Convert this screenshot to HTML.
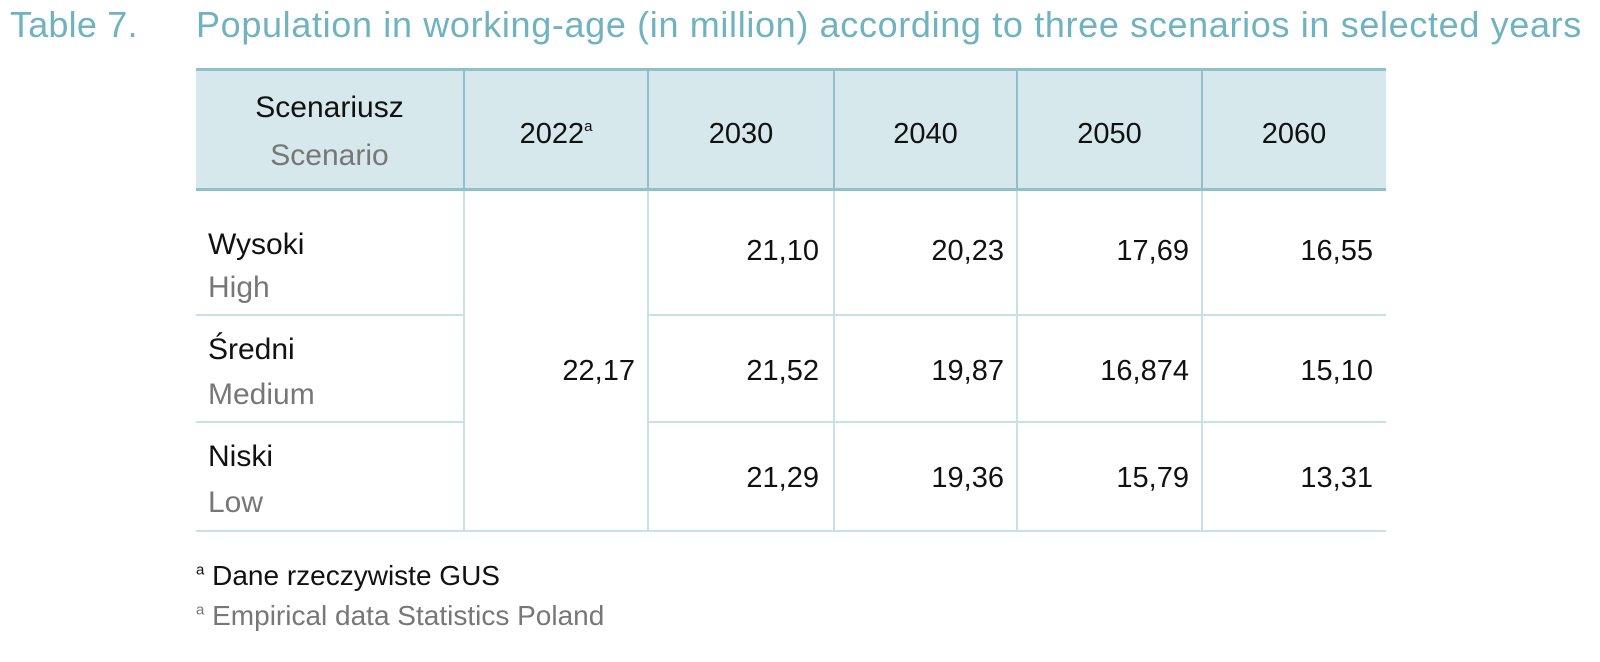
<!DOCTYPE html>
<html><head><meta charset="utf-8"><style>
body{margin:0;width:1600px;height:662px;background:#fff;position:relative;font-family:"Liberation Sans","DejaVu Sans",sans-serif;overflow:hidden}
.a{position:absolute;white-space:nowrap;line-height:1.15}
.t{color:#6fb2c0;font-size:36px;top:4px;letter-spacing:0.65px}
.k{color:#111;font-size:29px}
.g{color:#777;font-size:29px}
.l{font-size:30px}
.r{text-align:right}
.c{text-align:center}
.hl{position:absolute;height:2px;background:#c8e1e7;left:196px;width:1190px}
.vl{position:absolute;width:2px;background:#c8e1e7}
.hv{background:#8fc0cb}
</style></head><body>
<div class="a t" style="left:10px;letter-spacing:0.2px">Table 7.</div>
<div class="a t" style="left:196px">Population in working-age (in million) according to three scenarios in selected years</div>
<div class="a" style="left:196px;top:69px;width:1190px;height:120px;background:#d6e8ec"></div>
<div class="a" style="left:196px;top:68px;width:1190px;height:3px;background:#8fc0cb"></div>
<div class="a" style="left:196px;top:188px;width:1190px;height:3px;background:#8fc0cb"></div>
<div class="vl hv" style="left:463px;top:69px;height:120px"></div>
<div class="vl hv" style="left:647px;top:69px;height:120px"></div>
<div class="vl hv" style="left:833px;top:69px;height:120px"></div>
<div class="vl hv" style="left:1016px;top:69px;height:120px"></div>
<div class="vl hv" style="left:1201px;top:69px;height:120px"></div>
<div class="vl" style="left:463px;top:191px;height:341px"></div>
<div class="vl" style="left:647px;top:191px;height:341px"></div>
<div class="vl" style="left:833px;top:191px;height:341px"></div>
<div class="vl" style="left:1016px;top:191px;height:341px"></div>
<div class="vl" style="left:1201px;top:191px;height:341px"></div>
<div class="hl" style="top:314px;width:267px"></div>
<div class="hl" style="top:314px;left:648px;width:738px"></div>
<div class="hl" style="top:421px;width:267px"></div>
<div class="hl" style="top:421px;left:648px;width:738px"></div>
<div class="hl" style="top:530px"></div>
<div class="a k c l" style="left:196px;width:267px;top:91px">Scenariusz</div>
<div class="a g c l" style="left:196px;width:267px;top:139px">Scenario</div>
<div class="a k c" style="left:464px;width:184px;top:118px">2022<sup style="font-size:15px;vertical-align:12px">a</sup></div>
<div class="a k c" style="left:648px;width:186px;top:118px">2030</div>
<div class="a k c" style="left:834px;width:183px;top:118px">2040</div>
<div class="a k c" style="left:1017px;width:185px;top:118px">2050</div>
<div class="a k c" style="left:1202px;width:184px;top:118px">2060</div>
<div class="a k l" style="left:208px;top:228px">Wysoki</div>
<div class="a g l" style="left:208px;top:271px">High</div>
<div class="a k l" style="left:208px;top:333px">Średni</div>
<div class="a g l" style="left:208px;top:378px">Medium</div>
<div class="a k l" style="left:208px;top:440px">Niski</div>
<div class="a g l" style="left:208px;top:486px">Low</div>
<div class="a k r" style="left:464px;width:171px;top:355px">22,17</div>
<div class="a k r" style="left:648px;width:171px;top:235px">21,10</div>
<div class="a k r" style="left:834px;width:170px;top:235px">20,23</div>
<div class="a k r" style="left:1017px;width:172px;top:235px">17,69</div>
<div class="a k r" style="left:1202px;width:171px;top:235px">16,55</div>
<div class="a k r" style="left:648px;width:171px;top:355px">21,52</div>
<div class="a k r" style="left:834px;width:170px;top:355px">19,87</div>
<div class="a k r" style="left:1017px;width:172px;top:355px">16,874</div>
<div class="a k r" style="left:1202px;width:171px;top:355px">15,10</div>
<div class="a k r" style="left:648px;width:171px;top:462px">21,29</div>
<div class="a k r" style="left:834px;width:170px;top:462px">19,36</div>
<div class="a k r" style="left:1017px;width:172px;top:462px">15,79</div>
<div class="a k r" style="left:1202px;width:171px;top:462px">13,31</div>
<div class="a k" style="left:196px;top:560px;font-size:28px"><sup style="font-size:15px">a</sup> Dane rzeczywiste GUS</div>
<div class="a g" style="left:196px;top:600px;font-size:28px"><sup style="font-size:15px">a</sup> Empirical data Statistics Poland</div>
</body></html>
